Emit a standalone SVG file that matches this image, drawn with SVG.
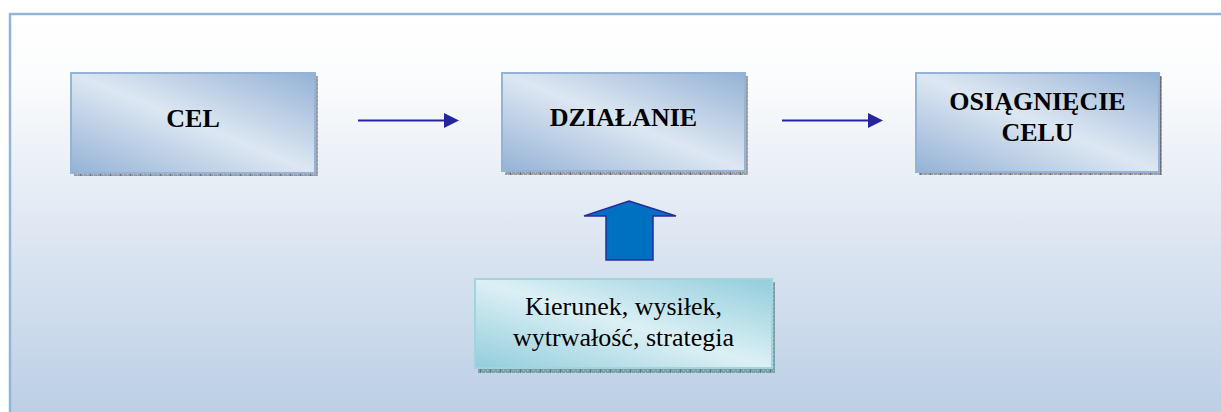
<svg xmlns="http://www.w3.org/2000/svg" width="1221" height="412" viewBox="0 0 1221 412">
  <defs>
    <linearGradient id="bg" x1="0" y1="0" x2="0" y2="1">
      <stop offset="0" stop-color="#ffffff"/>
      <stop offset="0.15" stop-color="#fbfcfd"/>
      <stop offset="1" stop-color="#b8cce4"/>
    </linearGradient>
    <linearGradient id="boxFill" x1="1" y1="0" x2="0" y2="1">
      <stop offset="0" stop-color="#94b2d6"/>
      <stop offset="0.5" stop-color="#dde7f2"/>
      <stop offset="1" stop-color="#94b2d6"/>
    </linearGradient>
    <linearGradient id="tealFill" x1="1" y1="0" x2="0" y2="1">
      <stop offset="0" stop-color="#92cddc"/>
      <stop offset="0.5" stop-color="#dcf0f5"/>
      <stop offset="1" stop-color="#92cddc"/>
    </linearGradient>
    <pattern id="shadeGray" width="10" height="4" patternUnits="userSpaceOnUse">
      <rect width="10" height="4" fill="#9c9ca4"/>
      <rect x="1" y="0" width="1" height="1" fill="#c4c4cc"/>
      <rect x="3" y="2" width="1" height="1" fill="#c4c4cc"/>
      <rect x="5" y="0" width="1" height="1" fill="#c4c4cc"/>
      <rect x="7" y="2" width="1" height="1" fill="#c4c4cc"/>
      <rect x="0" y="0" width="1" height="4" fill="#6e6e78"/>
    </pattern>
    <pattern id="shadeTeal" width="10" height="4" patternUnits="userSpaceOnUse">
      <rect width="10" height="4" fill="#7e9ea8"/>
      <rect x="1" y="0" width="1" height="1" fill="#a8c4cc"/>
      <rect x="3" y="2" width="1" height="1" fill="#a8c4cc"/>
      <rect x="5" y="0" width="1" height="1" fill="#a8c4cc"/>
      <rect x="7" y="2" width="1" height="1" fill="#a8c4cc"/>
      <rect x="0" y="0" width="1" height="4" fill="#5a7a84"/>
    </pattern>
  </defs>
  <style>
    .shadow { fill: url(#shadeGray); }
    .shadowTeal { fill: url(#shadeTeal); }
    .box { fill: url(#boxFill); stroke: #95b3d7; stroke-width: 2; }
    .boxTeal { fill: url(#tealFill); stroke: #a2d4e0; stroke-width: 2; }
    text { font-family: 'Liberation Serif', 'DejaVu Serif', serif; font-size: 26px; text-anchor: middle; fill: #000; }
    .title { font-weight: bold; }
    .link { stroke: #2525a0; stroke-width: 2.2; fill: none; }
    .head { fill: #2525a0; }
  </style>

  <!-- panel background -->
  <rect x="10" y="14" width="1230" height="420" fill="url(#bg)" stroke="#95b3d7" stroke-width="2.5"/>

  <g id="cel">
    <rect class="shadow" x="74" y="76" width="244" height="100"/>
    <rect class="box" x="71" y="73" width="244" height="100"/>
    <text class="title" x="193" y="127" font-family="Liberation Serif, serif">CEL</text>
  </g>

  <g id="dzialanie">
    <rect class="shadow" x="505" y="76" width="243" height="99"/>
    <rect class="box" x="502" y="73" width="243" height="98"/>
    <text class="title" x="623.5" y="126" font-family="Liberation Serif, serif">DZIAŁANIE</text>
  </g>

  <g id="osiagniecie">
    <rect class="shadow" x="919" y="76" width="243" height="99"/>
    <rect class="box" x="916" y="73" width="243" height="99"/>
    <text class="title" x="1037.5" y="110" font-family="Liberation Serif, serif">OSIĄGNIĘCIE</text>
    <text class="title" x="1037.5" y="141" font-family="Liberation Serif, serif">CELU</text>
  </g>

  <g id="czynniki">
    <rect class="shadowTeal" x="478" y="282" width="297" height="91"/>
    <rect class="boxTeal" x="475" y="279" width="297" height="89"/>
    <text x="623.5" y="315" font-family="Liberation Serif, serif">Kierunek, wysiłek,</text>
    <text x="623.5" y="346" font-family="Liberation Serif, serif">wytrwałość, strategia</text>
  </g>

  <g id="connectors">
    <line class="link" x1="358" y1="120.5" x2="446" y2="120.5"/>
    <polygon class="head" points="444,113 459,120.5 444,128"/>
    <line class="link" x1="782" y1="120.5" x2="869" y2="120.5"/>
    <polygon class="head" points="868,113 883,120.5 868,128"/>
    <polygon points="629,201 676,216 653,216 653,260 606,260 606,216 584,216" fill="#0070c0" stroke="#2a2aa0" stroke-width="1.5" stroke-linejoin="miter"/>
  </g>
</svg>
